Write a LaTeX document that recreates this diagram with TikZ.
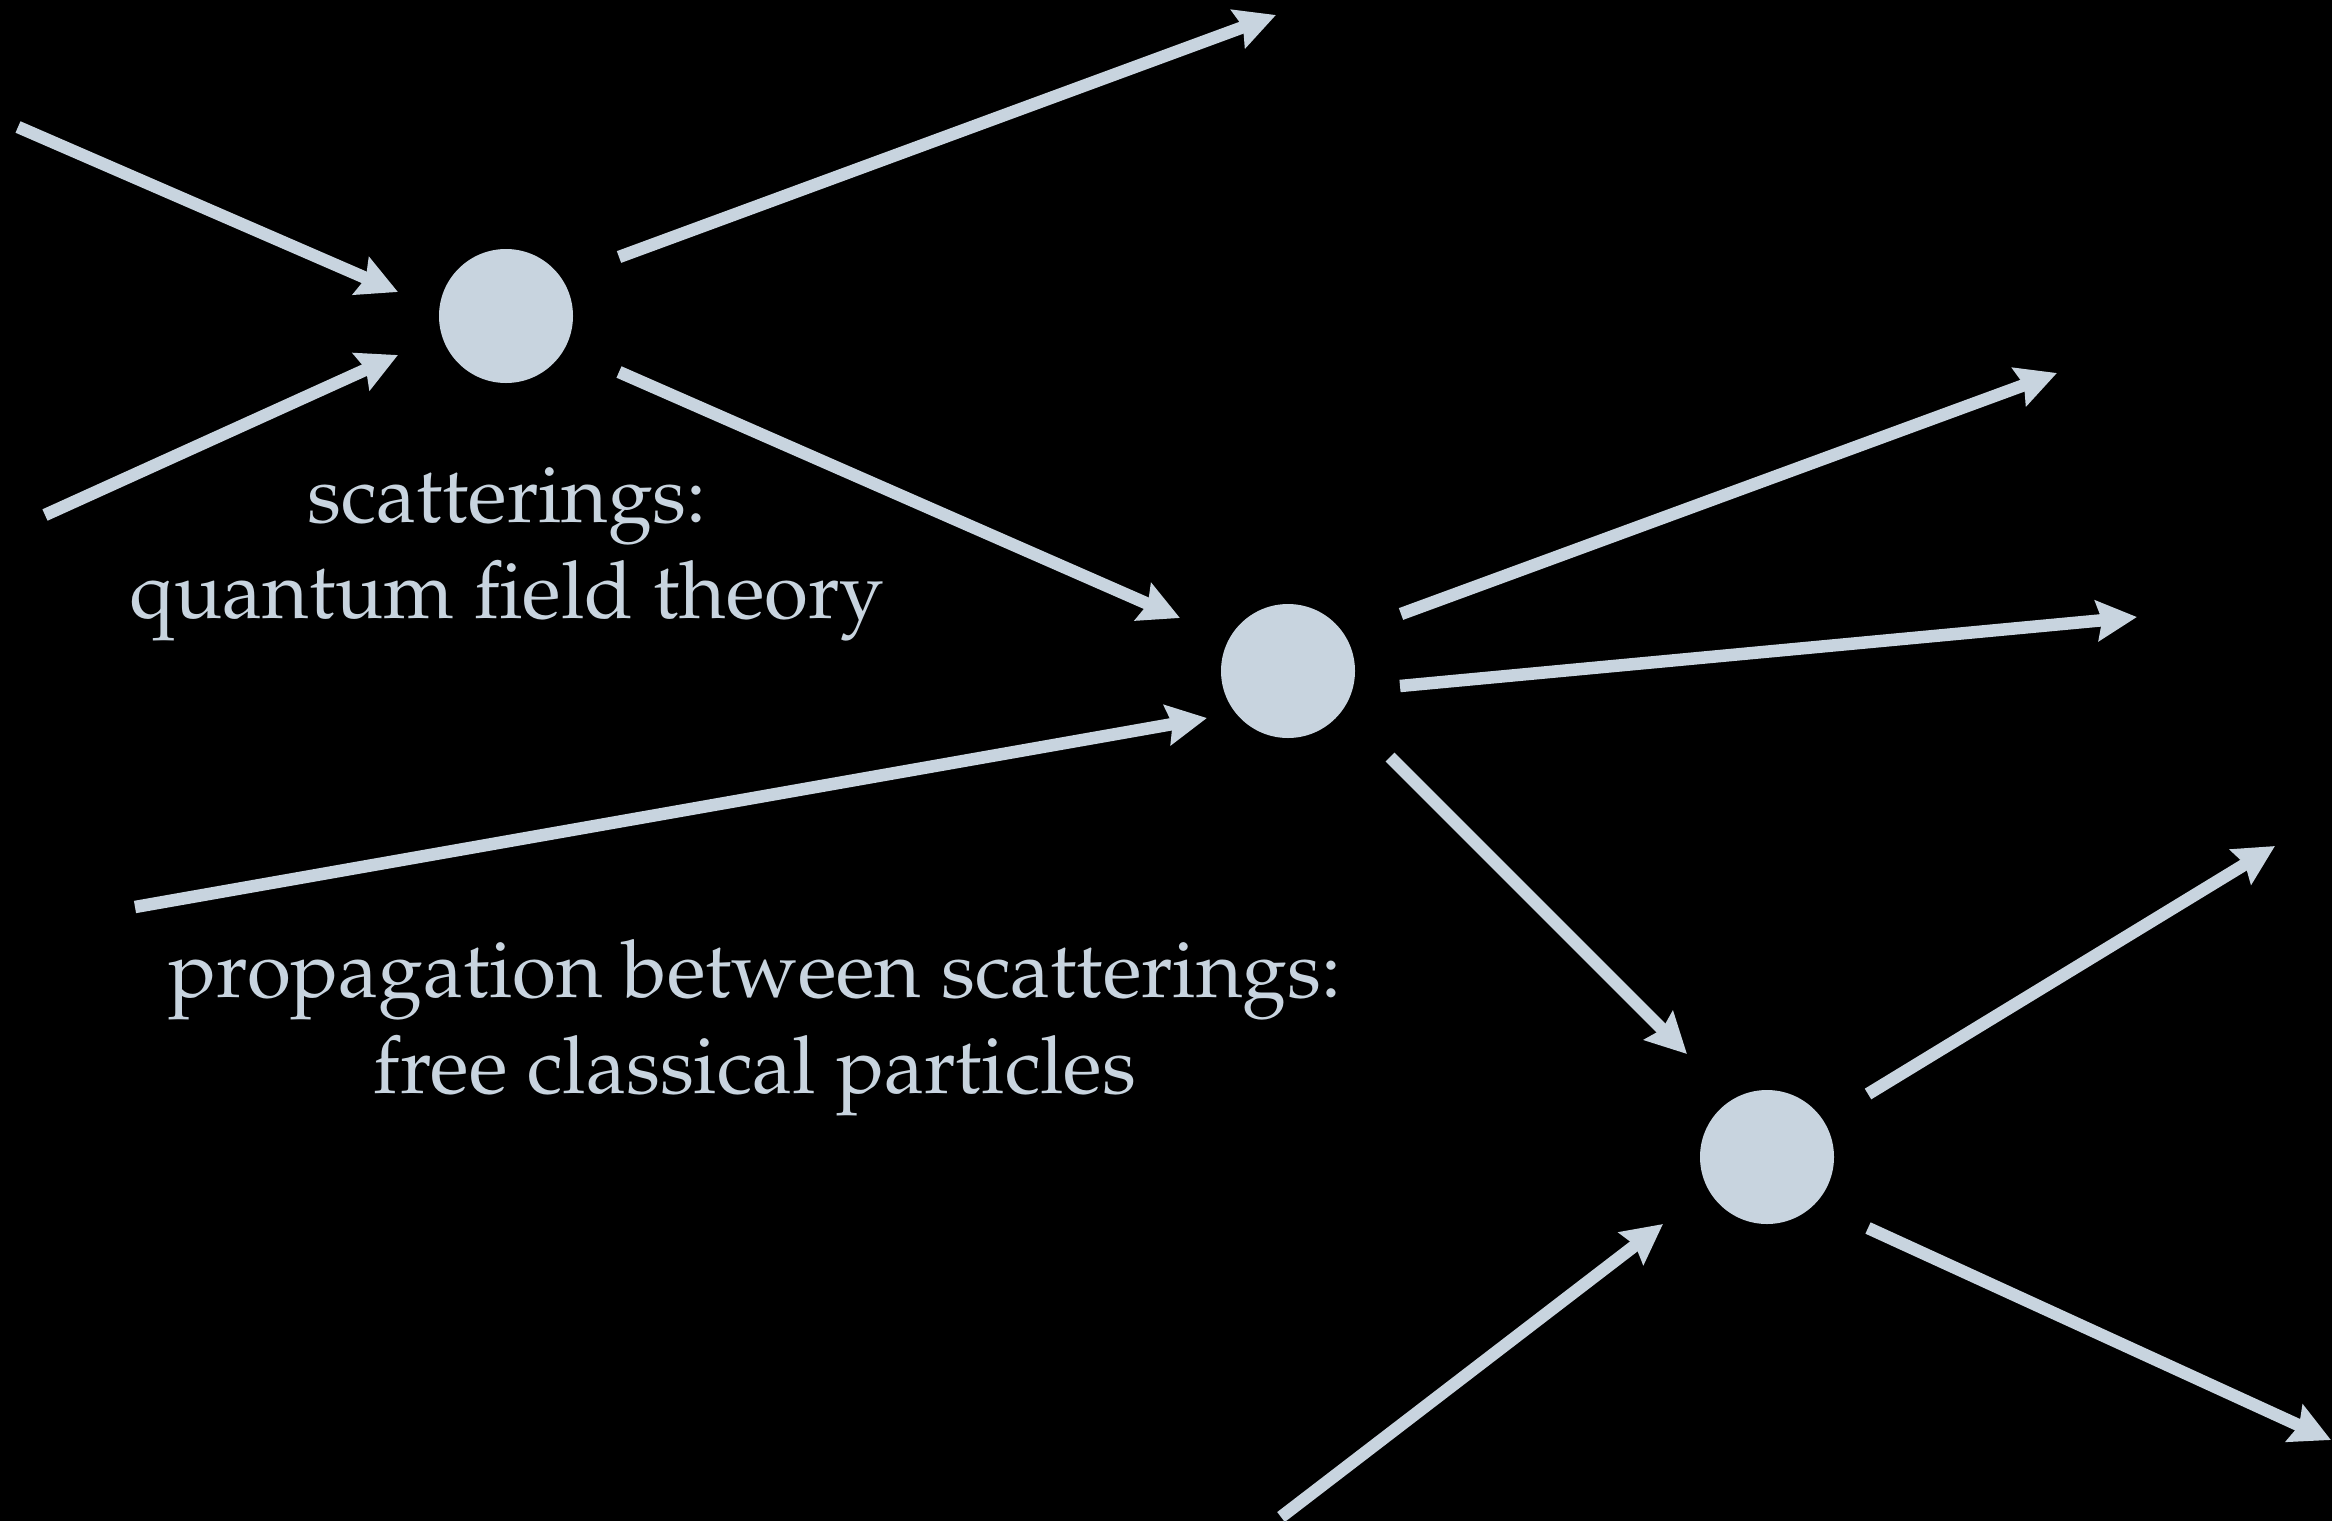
\documentclass[tikz,border=0pt]{standalone}
\usepackage[T1]{fontenc}
\usepackage{mathpazo}
\usetikzlibrary{arrows.meta}
\definecolor{fg}{RGB}{200,212,223}
\begin{document}
\begin{tikzpicture}[x=1pt,y=-1pt,
  conn/.style={draw=fg, line width=12.5pt, -{Stealth[length=40pt,width=40pt,inset=5pt]}},
  dot/.style={circle, fill=fg, minimum size=134pt, inner sep=0pt},
  lbl/.style={text=fg, font=\fontsize{80}{96}\selectfont, anchor=base, inner sep=0pt}]
\fill[black] (0,0) rectangle (2332,1521);
\useasboundingbox (0,0) rectangle (2332,1521);
% scattering vertices
\node[dot] (s1) at (506,316) {};
\node[dot] (s2) at (1288,671) {};
\node[dot] (s3) at (1767,1157) {};
% free ends of the particle lines
\coordinate (i1a) at (18,127);   \coordinate (i1b) at (398,292);
\coordinate (i2a) at (45,515);   \coordinate (i2b) at (398,355);
\coordinate (o1a) at (619,257);  \coordinate (o1b) at (1276,15);
\coordinate (p1a) at (619,372);  \coordinate (p1b) at (1180,618);
\coordinate (i3a) at (135,907);  \coordinate (i3b) at (1207,718);
\coordinate (o2a) at (1401,614); \coordinate (o2b) at (2057,373);
\coordinate (o3a) at (1400,686); \coordinate (o3b) at (2137,617);
\coordinate (p2a) at (1390,757); \coordinate (p2b) at (1687,1054);
\coordinate (o4a) at (1868,1094);\coordinate (o4b) at (2275,846);
\coordinate (o5a) at (1868,1228);\coordinate (o5b) at (2331,1440);
\coordinate (i4a) at (1281,1517);\coordinate (i4b) at (1663,1224);
\draw[conn] (i1a) -- (i1b);
\draw[conn] (i2a) -- (i2b);
\draw[conn] (o1a) -- (o1b);
\draw[conn] (p1a) -- (p1b);
\draw[conn] (i3a) -- (i3b);
\draw[conn] (o2a) -- (o2b);
\draw[conn] (o3a) -- (o3b);
\draw[conn] (p2a) -- (p2b);
\draw[conn] (o4a) -- (o4b);
\draw[conn] (o5a) -- (o5b);
\draw[conn] (i4a) -- (i4b);
% labels
\node[lbl] (t1) at (507,522) {scatterings:};
\node[lbl] (t2) at (507,618) {quantum field theory};
\node[lbl] (t3) at (755,997) {propagation between scatterings:};
\node[lbl] (t4) at (755,1093) {free classical particles};
\end{tikzpicture}
\end{document}
